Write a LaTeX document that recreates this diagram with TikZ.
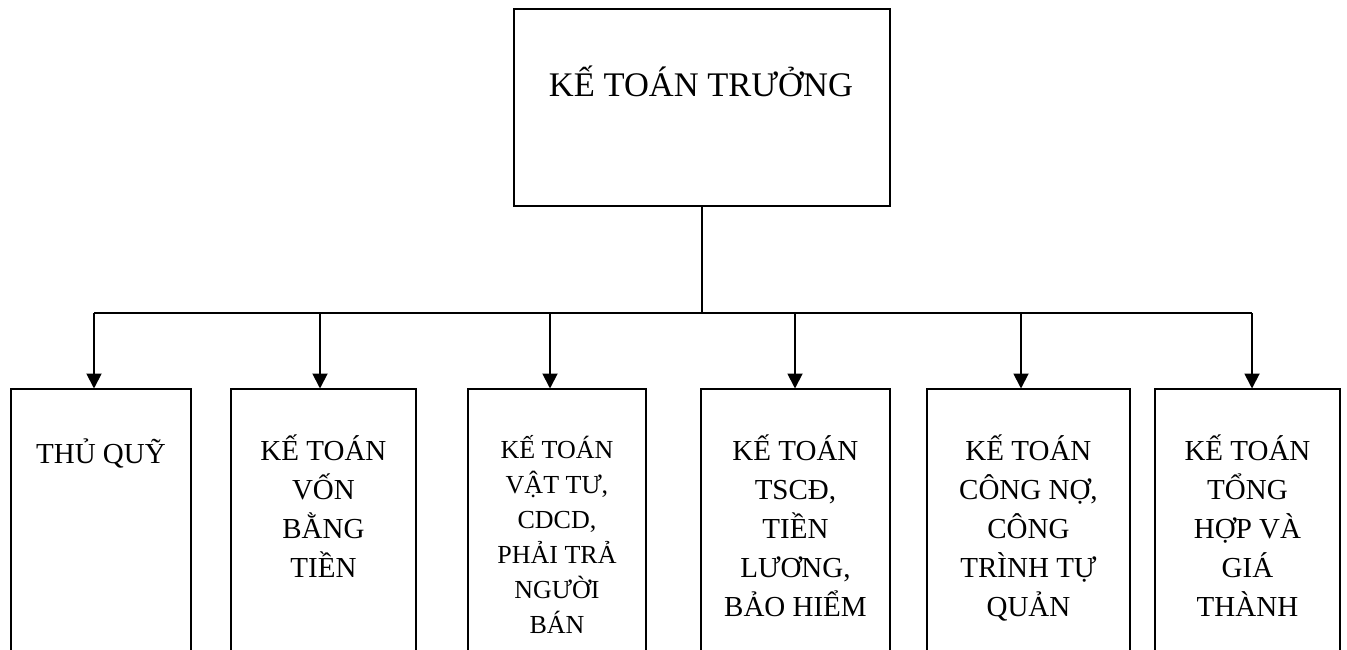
\documentclass[tikz,border=0pt]{standalone}
\usepackage{fontspec}
\setmainfont{Liberation Serif}
\usetikzlibrary{arrows.meta}
\begin{document}
\begin{tikzpicture}[x=1pt,y=-1pt,
  frame/.style={draw, line width=1.9pt, inner sep=0pt, anchor=north west},
  lbl/.style={align=center, inner sep=0pt, anchor=north,
    font=\fontsize{29}{39}\selectfont,
    execute at begin node={\rule{0pt}{28pt}}},
  lblsmall/.style={lbl, font=\fontsize{26}{35}\selectfont},
  wire/.style={line width=1.9pt},
  arr/.style={wire, -{Triangle[length=15pt,width=15pt]}, shorten >=-0.5pt}
]
\useasboundingbox (0,0) rectangle (1347,650);
\clip (0,0) rectangle (1347,650);

% head of department
\node[frame, minimum width=376pt, minimum height=197pt] (top) at (513,8) {};
\node[inner sep=0pt, anchor=base, font=\fontsize{34.5}{40}\selectfont] (toptxt) at (701,97) {KẾ TOÁN TRƯỞNG};

% staff boxes (run past the lower edge)
\node[frame, minimum width=180pt, minimum height=290pt] (b1) at (10,388) {};
\node[frame, minimum width=185pt, minimum height=290pt] (b2) at (230,388) {};
\node[frame, minimum width=178pt, minimum height=290pt] (b3) at (467,388) {};
\node[frame, minimum width=189pt, minimum height=290pt] (b4) at (700,388) {};
\node[frame, minimum width=203pt, minimum height=290pt] (b5) at (926,388) {};
\node[frame, minimum width=185pt, minimum height=290pt] (b6) at (1154,388) {};

% first text line sits on baseline y = 463
\coordinate (row) at (0,435);
\node[lbl] (t1) at (b1.north |- row) {THỦ QUỸ};
\node[lbl] (t2) at (b2.north |- row) {KẾ TOÁN\\VỐN\\BẰNG\\TIỀN};
\node[lblsmall] (t3) at (b3.north |- row) {KẾ TOÁN\\VẬT TƯ,\\CDCD,\\PHẢI TRẢ\\NGƯỜI\\BÁN};
\node[lbl] (t4) at (b4.north |- row) {KẾ TOÁN\\TSCĐ,\\TIỀN\\LƯƠNG,\\BẢO HIỂM};
\node[lbl] (t5) at (b5.north |- row) {KẾ TOÁN\\CÔNG NỢ,\\CÔNG\\TRÌNH TỰ\\QUẢN};
\node[lbl] (t6) at (b6.north |- row) {KẾ TOÁN\\TỔNG\\HỢP VÀ\\GIÁ\\THÀNH};

% distribution bus
\coordinate (bus) at (700,313);
\coordinate (a1) at (94,313);
\coordinate (a2) at (320,313);
\coordinate (a3) at (550,313);
\coordinate (a4) at (795,313);
\coordinate (a5) at (1021,313);
\coordinate (a6) at (1252,313);

\draw[wire] (top.south) -- (top.south |- bus);
\draw[wire] (a1) -- (a6);
\foreach \i in {1,...,6}{
  \draw[arr] (a\i) -- (a\i |- b\i.north);
}
\end{tikzpicture}
\end{document}
